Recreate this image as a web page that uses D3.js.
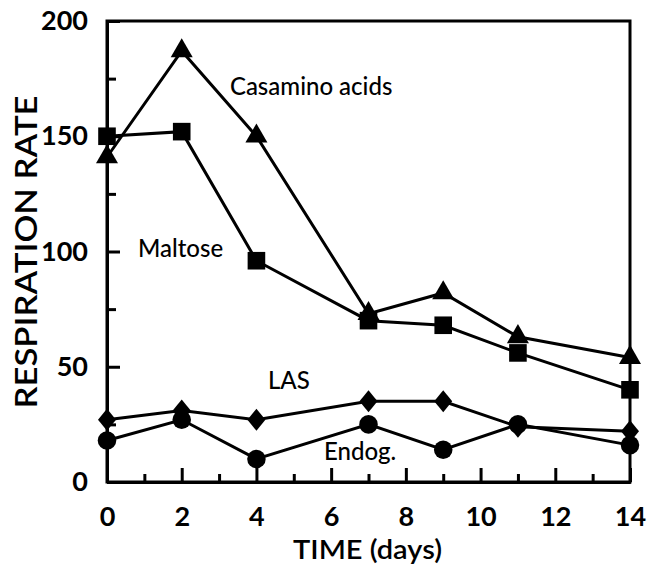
<!DOCTYPE html>
<html><head><meta charset="utf-8">
<script src="https://cdn.jsdelivr.net/npm/d3@7"></script>
<style>body{margin:0;background:#fff}svg{display:block}</style>
</head><body>
<svg id="c" width="652" height="570"></svg>
<script>
const days = [0, 2, 4, 7, 9, 11, 14];
const casamino = [141, 187, 150, 73, 82, 63, 54];
const maltose = [150, 152, 96, 70, 68, 56, 40];
const las = [27, 31, 27, 35, 35, 24, 22];
const endog = [18, 27, 10, 25, 14, 25, 16];
const yTicks = [0, 50, 100, 150, 200];
const yMinor = [25, 75, 125, 175];
const xTicks = [0, 2, 4, 6, 8, 10, 12, 14];
const xMinor = [1, 3, 5, 7, 9, 11, 13];
const labels = [
  {text: "Casamino acids", x: 3.29, y: 168},
  {text: "Maltose", x: 0.83, y: 97.5},
  {text: "LAS", x: 4.31, y: 40.5},
  {text: "Endog.", x: 5.81, y: 9.5}
];

const svg = d3.select("#c");
const L = 107, R = 630, T = 21, B = 482;
const x = d3.scaleLinear().domain([0, 14]).range([L, R]);
const y = d3.scaleLinear().domain([0, 200]).range([B, T]);
const font = "Lato, 'Open Sans', sans-serif";

svg.append("rect").attr("x", L).attr("y", T).attr("width", R - L).attr("height", B - T)
  .attr("fill", "none").attr("stroke", "#000").attr("stroke-width", 3);

const ya = svg.append("g").attr("transform", `translate(${L},0)`)
  .call(d3.axisLeft(y).tickValues(yTicks).tickSizeInner(-13).tickSizeOuter(0).tickPadding(19));
const yb = svg.append("g").attr("transform", `translate(${L},0)`)
  .call(d3.axisLeft(y).tickValues(yMinor).tickSizeInner(-9).tickSizeOuter(0).tickFormat(""));
const xa = svg.append("g").attr("transform", `translate(0,${B})`)
  .call(d3.axisBottom(x).tickValues(xTicks).tickSizeInner(-14).tickSizeOuter(0).tickPadding(25));
const xb = svg.append("g").attr("transform", `translate(0,${B})`)
  .call(d3.axisBottom(x).tickValues(xMinor).tickSizeInner(-8).tickSizeOuter(0).tickFormat(""));
[ya, yb, xa, xb].forEach(g => {
  g.select(".domain").attr("stroke-width", 3);
  g.selectAll(".tick line").attr("stroke-width", 3);
  g.selectAll("text").attr("font-family", font).attr("font-size", 27).attr("font-weight", 700).attr("fill", "#000");
});

svg.append("text").attr("x", 293).attr("y", 559)
  .attr("textLength", 149).attr("lengthAdjust", "spacingAndGlyphs")
  .attr("font-family", font).attr("font-size", 26).attr("font-weight", 600).text("TIME (days)");
svg.append("text").attr("transform", "translate(37,252) rotate(-90)").attr("text-anchor", "middle")
  .attr("textLength", 313).attr("lengthAdjust", "spacingAndGlyphs")
  .attr("font-family", font).attr("font-size", 30).attr("font-weight", 600).text("RESPIRATION RATE");

const diamond = {
  draw(ctx, size) {
    const w = Math.sqrt(size / 1.17) * 0.0 + 9, h = 11;
    ctx.moveTo(0, -h); ctx.lineTo(w, 0); ctx.lineTo(0, h); ctx.lineTo(-w, 0); ctx.closePath();
  }
};

const line = d3.line().x(d => x(d[0])).y(d => y(d[1]));
const series = [
  {v: casamino, sym: d3.symbolTriangle, size: 210},
  {v: maltose, sym: d3.symbolSquare, size: 310},
  {v: las, sym: diamond, size: 200},
  {v: endog, sym: d3.symbolCircle, size: 270}
];
series.forEach(s => {
  const pts = days.map((d, i) => [d, s.v[i]]);
  svg.append("path").attr("d", line(pts)).attr("fill", "none").attr("stroke", "#000").attr("stroke-width", 3);
  svg.selectAll(null).data(pts).enter().append("path")
    .attr("transform", d => `translate(${x(d[0])},${y(d[1])})`)
    .attr("d", d3.symbol().type(s.sym).size(s.size)).attr("fill", "#000");
});

labels.forEach(l => {
  svg.append("text").attr("x", x(l.x)).attr("y", y(l.y)).attr("font-family", font)
    .attr("font-size", 24).attr("font-weight", 500).attr("fill", "#000").text(l.text);
});
</script>
</body></html>
